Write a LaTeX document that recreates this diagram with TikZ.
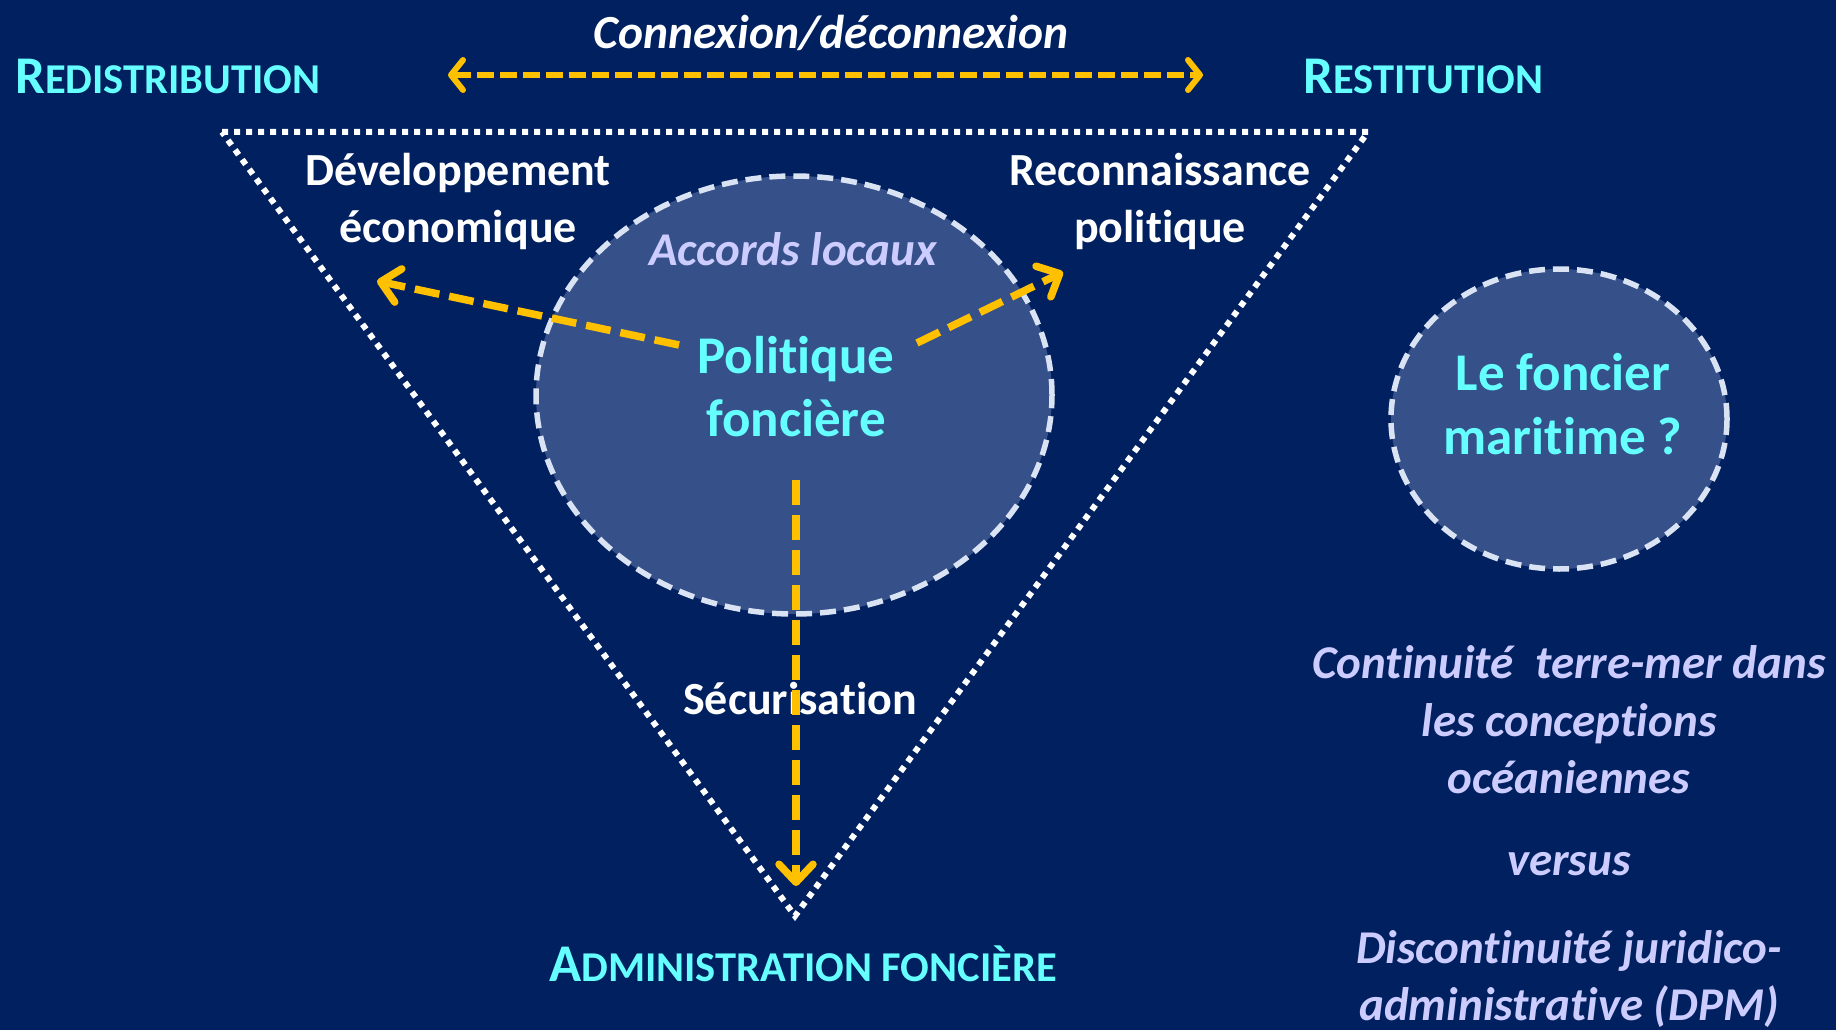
\documentclass[tikz,border=0pt]{standalone}
\usepackage{fontspec}
\setmainfont{Carlito}[RawFeature={-liga;-clig;-dlig;-calt}]
\usetikzlibrary{arrows.meta,shapes.geometric}
\definecolor{navy}{RGB}{0,32,96}
\definecolor{orangeA}{RGB}{255,192,0}
\definecolor{cyanA}{RGB}{102,255,255}
\definecolor{lavande}{RGB}{204,204,255}
\definecolor{blobfill}{RGB}{54,80,138}
\definecolor{blobline}{RGB}{218,227,243}
\def\pcap#1#2{{\fontsize{53}{60}\selectfont #1}{\fontsize{42.5}{60}\selectfont #2}}

\tikzset{
  blob/.style={ellipse, draw=blobline, fill=blobfill, line width=5.5pt,
    dash pattern=on 16pt off 8pt, inner sep=0pt},
  orarrow/.style={draw=orangeA, line width=7.5pt, dash pattern=on 25pt off 10pt,
    -{Straight Barb[length=18pt,width=34pt,round]}},
  whitetxt/.style={text=white, font=\bfseries\fontsize{46}{57}\selectfont, align=center},
  lavtxt/.style={text=lavande, font=\bfseries\itshape\fontsize{47}{57.5}\selectfont, align=center},
  cyantxt/.style={text=cyanA, font=\bfseries\fontsize{53}{63}\selectfont, align=center},
  pole/.style={text=cyanA, font=\bfseries, inner sep=0pt}
}

\begin{document}
\begin{tikzpicture}[x=1pt,y=-1pt]
\useasboundingbox (0,0) rectangle (1836,1030);
\fill[navy] (0,0) rectangle (1836,1030);

% triangle
\draw[white, line width=6pt, dash pattern=on 6pt off 6pt] (222,132) -- (1368,132) -- (795,916) -- cycle;

% ellipses
\node[blob, minimum width=516pt, minimum height=438pt] (bigblob) at (794,395) {};
\node[blob, minimum width=336pt, minimum height=300pt] (seablob) at (1559,419) {};

% poles
\node[pole, anchor=base west] (redis) at (15,94) {\pcap{R}{EDISTRIBUTION}};
\node[pole, anchor=base west] (restit) at (1303,94) {\pcap{R}{ESTITUTION}};
\node[pole, anchor=base] (admin) at (803,981) {\pcap{A}{DMINISTRATION FONCIÈRE}};

% labels
\node[whitetxt, font=\bfseries\itshape\fontsize{47.5}{57}\selectfont] (connex) at (831,33) {Connexion/déconnexion};
\node[whitetxt] (devel) at (458,201) {Développement\\économique};
\node[whitetxt] (recon) at (1160,201) {Reconnaissance\\politique};
\node[lavtxt] (accords) at (793,249) {Accords locaux};
\node[cyantxt] (politique) at (796,387) {Politique\\foncière};
\node[whitetxt] (securis) at (800,699) {Sécurisation};
\node[cyantxt, font=\bfseries\fontsize{53}{64}\selectfont] (maritime) at (1563,404) {Le foncier\\maritime ?};
\node[lavtxt] (continuite) at (1569,720) {Continuité~ terre-mer dans\\les conceptions\\océaniennes};
\node[lavtxt] (versus) at (1569,864) {versus};
\node[lavtxt] (discont) at (1569,979) {Discontinuité juridico-\\administrative (DPM)};

% arrows
\coordinate (cx1) at (448,75);
\coordinate (cx2) at (1203,75);
\coordinate (devstart) at (679,345);
\coordinate (devtip) at (377,281);
\coordinate (recstart) at (917,343);
\coordinate (rectip) at (1063,272);
\coordinate (secstart) at (796,480);
\coordinate (sectip) at (796,886);
\draw[orangeA, line width=6pt, dash pattern=on 17pt off 6pt,
  {Straight Barb[length=12pt,width=30pt,round]}-{Straight Barb[length=12pt,width=30pt,round]}] (cx1) -- (cx2);
\draw[orarrow] (devstart) -- (devtip);
\draw[orarrow] (recstart) -- (rectip);
\draw[orarrow] (secstart) -- (sectip);
\end{tikzpicture}
\end{document}
